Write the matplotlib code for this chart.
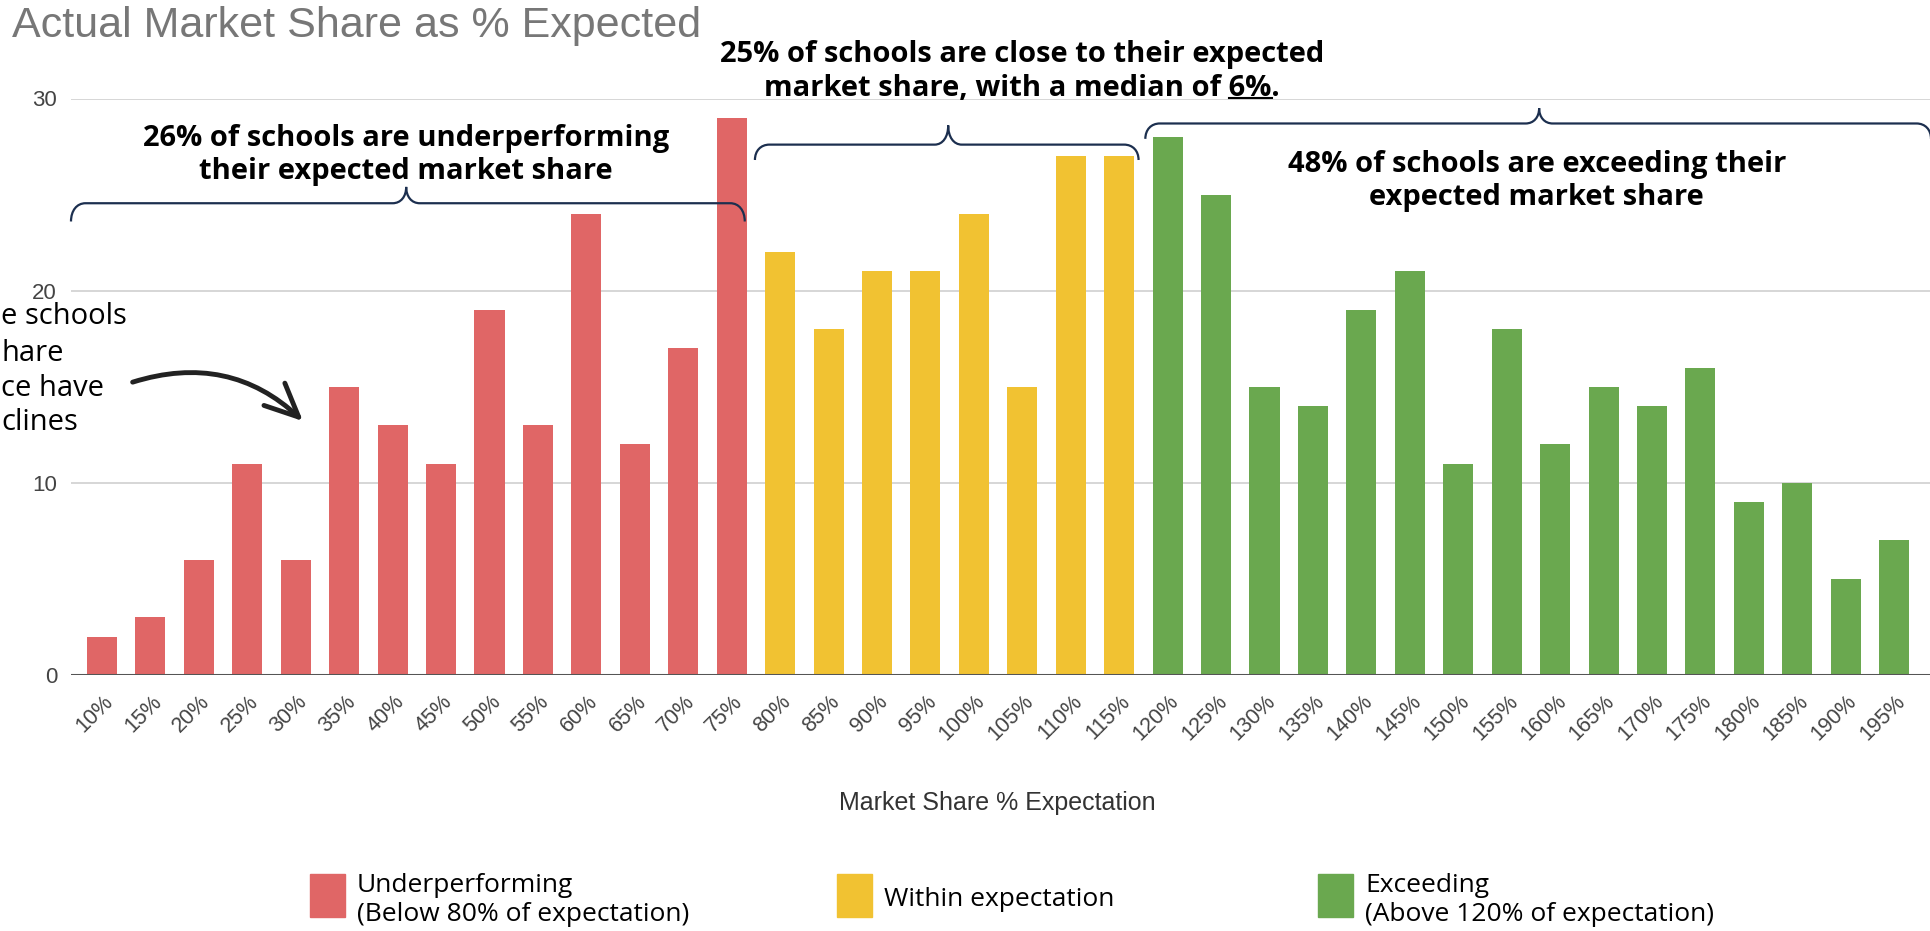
import numpy as np
import matplotlib.pyplot as plt
from matplotlib.path import Path
from matplotlib.patches import PathPatch, Rectangle, FancyArrowPatch
from matplotlib.lines import Line2D
from matplotlib.transforms import ScaledTranslation

# data
categories = ["10%", "15%", "20%", "25%", "30%", "35%", "40%", "45%", "50%", "55%",
              "60%", "65%", "70%", "75%", "80%", "85%", "90%", "95%", "100%", "105%",
              "110%", "115%", "120%", "125%", "130%", "135%", "140%", "145%", "150%",
              "155%", "160%", "165%", "170%", "175%", "180%", "185%", "190%", "195%"]
values = [2, 3, 6, 11, 6, 15, 13, 11, 19, 13, 24, 12, 17, 29,
          22, 18, 21, 21, 24, 15, 27, 27,
          28, 25, 15, 14, 19, 21, 11, 18, 12, 15, 14, 16, 9, 10, 5, 7]
groups = ["Underperforming", "Within expectation", "Exceeding"]
group_counts = [14, 8, 16]
group_colors = ["#e06666", "#f1c232", "#6aa84f"]
legend_labels = ["Underperforming\n(Below 80% of expectation)",
                 "Within expectation",
                 "Exceeding\n(Above 120% of expectation)"]

W, H = 1931, 931
ANN = ["Open Sans", "DejaVu Sans"]
SANS = ["Liberation Sans", "DejaVu Sans"]
NAVY = "#1c2f4f"

bar_colors = []
for c, n in zip(group_colors, group_counts):
    bar_colors += [c] * n

fig = plt.figure(figsize=(W / 100, H / 100), dpi=100)
ax = fig.add_axes([71 / W, 1 - 675 / H, 1 - 71 / W, (675 - 98.5) / H])

x = np.arange(len(values))
ax.bar(x, values, width=0.62, color=bar_colors, zorder=2)
ax.set_xlim(-0.64, 37.76)
ax.set_ylim(0, 30)

for s in ax.spines.values():
    s.set_visible(False)
ax.set_yticks([0, 10, 20, 30])
ax.yaxis.grid(True, color="#d0d0d0", lw=1.2, zorder=0)
ax.axhline(0, color="#555555", lw=2.2, zorder=3)
ax.tick_params(length=0)
ax.tick_params(axis="y", pad=10, labelsize=16, labelcolor="#444444")
for lab in ax.get_yticklabels():
    lab.set_family(SANS)

ax.set_xticks(x)
ax.set_xticklabels(categories, rotation=45, ha="right", va="center",
                   rotation_mode="anchor", fontsize=15.5, color="#444444", family=SANS)
ax.tick_params(axis="x", pad=17)
for lab in ax.get_xticklabels():
    lab.set_transform(lab.get_transform() + ScaledTranslation(0.08, 0, fig.dpi_scale_trans))

ax.set_xlabel("Market Share % Expectation", fontsize=18, color="#333333", family=SANS)
ax.xaxis.set_label_coords(0.498, -0.201)

fig.text(12 / W, 1 - 26 / H, "Actual Market Share as % Expected", fontsize=31,
         color="#777777", family=SANS, va="center", ha="left")


def brace(x0, x1, xm, y_end, y_mid, y_tip, r=0.3, t=0.28):
    verts = [(x0, y_end),
             (x0, y_end + 0.6 * (y_mid - y_end)), (x0 + 0.4 * r, y_mid), (x0 + r, y_mid),
             (xm - t, y_mid),
             (xm - 0.4 * t, y_mid), (xm, y_mid + 0.4 * (y_tip - y_mid)), (xm, y_tip),
             (xm, y_mid + 0.4 * (y_tip - y_mid)), (xm + 0.4 * t, y_mid), (xm + t, y_mid),
             (x1 - r, y_mid),
             (x1 - 0.4 * r, y_mid), (x1, y_end + 0.6 * (y_mid - y_end)), (x1, y_end)]
    codes = [Path.MOVETO] + [Path.CURVE4] * 3 + [Path.LINETO] + [Path.CURVE4] * 6 + \
            [Path.LINETO] + [Path.CURVE4] * 3
    ax.add_patch(PathPatch(Path(verts, codes), fill=False, ec=NAVY, lw=1.6,
                           clip_on=False, zorder=4))


brace(-0.64, 13.27, 6.28, 23.6, 24.55, 25.4)
brace(13.48, 21.4, 17.47, 26.8, 27.6, 28.6)
brace(21.54, 37.76, 29.67, 27.9, 28.7, 29.5)

ann = dict(fontsize=21, fontweight="bold", family=ANN, ha="center", va="center", color="black")
ax.text(6.28, 27.05, "26% of schools are underperforming\ntheir expected market share",
        linespacing=1.2, **ann)
ax.text(19.0, 32.3, "25% of schools are close to their expected", **ann)
t2 = ax.text(19.0, 30.5, "market share, with a median of 6%.", **ann)
ax.text(29.62, 25.7, "48% of schools are exceeding their\nexpected market share",
        linespacing=1.2, **ann)

# underline under "6%"
fig.canvas.draw()
rend = fig.canvas.get_renderer()
bb = t2.get_window_extent(rend)
tmp = fig.text(0, 0, "6%.", fontsize=21, fontweight="bold", family=ANN)
w_all = tmp.get_window_extent(rend).width
tmp.set_text(".")
w_dot = tmp.get_window_extent(rend).width
tmp.remove()
uy = bb.y0 + 5
fig.add_artist(Line2D([(bb.x1 - w_all) / W, (bb.x1 - w_dot) / W], [uy / H, uy / H],
                      transform=fig.transFigure, color="black", lw=1.5))

# side note on the left edge (only these fragments are visible in the source)
side = dict(fontsize=21, family=ANN, ha="left", va="center", color="black")
fig.text(1 / W, 1 - 317 / H, "e schools", **side)
fig.text(2 / W, 1 - 353 / H, "hare", **side)
fig.text(1 / W, 1 - 388 / H, "ce have", **side)
fig.text(1 / W, 1 - 423 / H, "clines", **side)

fig.add_artist(FancyArrowPatch((130 / W, 1 - 383 / H), (305 / W, 1 - 423 / H),
                               transform=fig.transFigure, connectionstyle="arc3,rad=-0.3",
                               arrowstyle="->,head_length=24,head_width=11",
                               color="#222222", lw=3.5, mutation_scale=1))

# legend
sq_x = [310, 837, 1318]
for sx, col, lab in zip(sq_x, group_colors, legend_labels):
    fig.add_artist(Rectangle((sx / W, 1 - 917 / H), 35 / W, 43 / H,
                             transform=fig.transFigure, color=col))
    fig.text((sx + 47) / W, 1 - 900 / H, lab, fontsize=19, family=ANN,
             ha="left", va="center", linespacing=1.2, color="black")

fig.savefig("out.png", dpi=100)
